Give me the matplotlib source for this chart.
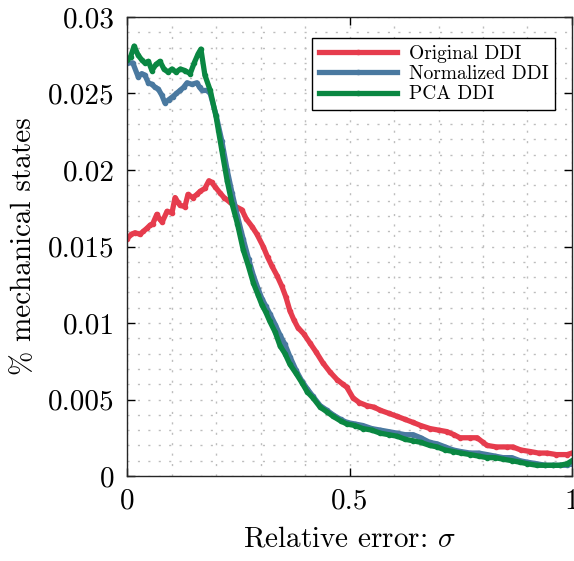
import matplotlib
matplotlib.use("Agg")
import matplotlib.pyplot as plt
import numpy as np
from matplotlib.ticker import MultipleLocator

# Original DDI
sigma_orig = [0.0, 0.010, 0.018, 0.029, 0.037, 0.045, 0.052, 0.058, 0.067, 0.073,
              0.079, 0.090, 0.101, 0.108, 0.114, 0.119, 0.130, 0.137, 0.148, 0.157,
              0.164, 0.175, 0.184, 0.190, 0.198, 0.209, 0.218, 0.231, 0.245, 0.258,
              0.268, 0.281, 0.292, 0.306, 0.316, 0.326, 0.337, 0.348, 0.357, 0.366,
              0.375, 0.384, 0.397, 0.411, 0.425, 0.440, 0.456, 0.472, 0.485, 0.494,
              0.508, 0.522, 0.539, 0.555, 0.569, 0.588, 0.607, 0.625, 0.643, 0.660,
              0.681, 0.700, 0.719, 0.735, 0.748, 0.770, 0.787, 0.800, 0.809, 0.830,
              0.854, 0.867, 0.885, 0.906, 0.925, 0.944, 0.965, 0.989, 1.0]
orig_ddi = [0.0155, 0.0158, 0.0159, 0.0158, 0.0160, 0.0162, 0.0164, 0.0165, 0.0171, 0.0168,
            0.0166, 0.0173, 0.0172, 0.0182, 0.0179, 0.0177, 0.0176, 0.0184, 0.0182, 0.0184,
            0.0186, 0.0188, 0.0193, 0.0192, 0.0189, 0.0185, 0.0182, 0.0179, 0.0176, 0.0174,
            0.0168, 0.0163, 0.0158, 0.0150, 0.0143, 0.0137, 0.0131, 0.0124, 0.0117, 0.0108,
            0.0102, 0.0097, 0.0093, 0.0087, 0.0081, 0.0074, 0.0068, 0.0063, 0.0060, 0.0058,
            0.0051, 0.0048, 0.0046, 0.0045, 0.0043, 0.0041, 0.0039, 0.0037, 0.0035, 0.0033,
            0.0031, 0.0030, 0.0029, 0.0027, 0.0025, 0.0025, 0.0025, 0.0022, 0.0020, 0.0019,
            0.0019, 0.0019, 0.0017, 0.0016, 0.0015, 0.0015, 0.0014, 0.0014, 0.0015]

# Normalized DDI
sigma_norm = [0.0, 0.013, 0.025, 0.033, 0.040, 0.048, 0.056, 0.063, 0.070, 0.078,
              0.085, 0.094, 0.103, 0.111, 0.119, 0.127, 0.135, 0.146, 0.157, 0.163,
              0.169, 0.180, 0.187, 0.200, 0.213, 0.225, 0.236, 0.248, 0.261, 0.273,
              0.284, 0.295, 0.303, 0.312, 0.321, 0.333, 0.344, 0.355, 0.366, 0.380,
              0.393, 0.405, 0.418, 0.434, 0.449, 0.463, 0.480, 0.494, 0.512, 0.530,
              0.550, 0.569, 0.588, 0.607, 0.625, 0.643, 0.660, 0.680, 0.697, 0.715,
              0.733, 0.750, 0.771, 0.790, 0.809, 0.827, 0.845, 0.865, 0.883, 0.900,
              0.921, 0.940, 0.957, 0.973, 0.989, 1.0]
norm_ddi = [0.0270, 0.0270, 0.0261, 0.0263, 0.0262, 0.0257, 0.0256, 0.0254, 0.0253, 0.0249,
            0.0244, 0.0246, 0.0248, 0.0250, 0.0252, 0.0254, 0.0257, 0.0256, 0.0257, 0.0254,
            0.0252, 0.0252, 0.0250, 0.0236, 0.0219, 0.0200, 0.0185, 0.0170, 0.0155, 0.0142,
            0.0131, 0.0122, 0.0116, 0.0111, 0.0106, 0.0099, 0.0092, 0.0086, 0.0078, 0.0069,
            0.0062, 0.0057, 0.0052, 0.0046, 0.0043, 0.0040, 0.0037, 0.0035, 0.0034, 0.0033,
            0.0031, 0.0030, 0.0029, 0.0028, 0.0027, 0.0027, 0.0025, 0.0022, 0.0021, 0.0019,
            0.0017, 0.0016, 0.0015, 0.0015, 0.0014, 0.0013, 0.0012, 0.0012, 0.0010, 0.0009,
            0.0008, 0.0007, 0.0007, 0.0007, 0.0007, 0.0008]

# PCA DDI
sigma_pca = [0.0, 0.008, 0.016, 0.025, 0.033, 0.040, 0.048, 0.056, 0.065, 0.074,
             0.083, 0.092, 0.101, 0.110, 0.120, 0.130, 0.142, 0.151, 0.160, 0.166,
             0.175, 0.187, 0.200, 0.213, 0.225, 0.236, 0.248, 0.261, 0.273, 0.284,
             0.295, 0.303, 0.312, 0.321, 0.333, 0.344, 0.355, 0.366, 0.380, 0.393,
             0.405, 0.418, 0.434, 0.449, 0.463, 0.480, 0.494, 0.512, 0.530, 0.550,
             0.569, 0.588, 0.607, 0.625, 0.643, 0.660, 0.680, 0.697, 0.715, 0.733,
             0.750, 0.771, 0.790, 0.809, 0.827, 0.845, 0.865, 0.883, 0.900, 0.921,
             0.940, 0.957, 0.973, 0.989, 1.0]
pca_ddi = [0.0272, 0.0274, 0.0281, 0.0275, 0.0272, 0.0270, 0.0271, 0.0265, 0.0269, 0.0271,
           0.0266, 0.0264, 0.0266, 0.0264, 0.0266, 0.0265, 0.0263, 0.0270, 0.0276, 0.0279,
           0.0262, 0.0252, 0.0235, 0.0213, 0.0193, 0.0178, 0.0165, 0.0148, 0.0137, 0.0126,
           0.0118, 0.0112, 0.0107, 0.0101, 0.0094, 0.0085, 0.0080, 0.0073, 0.0067, 0.0061,
           0.0055, 0.0051, 0.0045, 0.0042, 0.0039, 0.0036, 0.0034, 0.0033, 0.0031, 0.0030,
           0.0028, 0.0027, 0.0026, 0.0024, 0.0023, 0.0022, 0.0020, 0.0019, 0.0017, 0.0016,
           0.0015, 0.0014, 0.0013, 0.0012, 0.0012, 0.0011, 0.0010, 0.0009, 0.0008, 0.0007,
           0.0007, 0.0007, 0.0007, 0.0008, 0.0010]

x_ticks = [0, 0.5, 1]
x_ticklabels = ["0", "0.5", "1"]
y_ticks = [0, 0.005, 0.01, 0.015, 0.02, 0.025, 0.03]
y_ticklabels = ["0", "0.005", "0.01", "0.015", "0.02", "0.025", "0.03"]

plt.rcParams['font.family'] = 'serif'
plt.rcParams['font.serif'] = ['cmr10']
plt.rcParams['mathtext.fontset'] = 'cm'
plt.rcParams['axes.unicode_minus'] = False

fig = plt.figure(figsize=(5.74, 5.61), dpi=100)
ax = fig.add_axes([0.2213, 0.1515, 0.7752, 0.8182])

style = dict(lw=3.8, marker='.', ms=6)
ax.plot(sigma_orig, orig_ddi, color='#E63C4D', label='Original DDI', **style)
ax.plot(sigma_norm, norm_ddi, color='#4A79A0', label='Normalized DDI', **style)
ax.plot(sigma_pca, pca_ddi, color='#0A8742', label='PCA DDI', **style)

ax.set_xlim(0, 1)
ax.set_ylim(0, 0.03)
ax.set_xticks(x_ticks)
ax.set_xticklabels(x_ticklabels)
ax.set_yticks(y_ticks)
ax.set_yticklabels(y_ticklabels)
ax.xaxis.set_minor_locator(MultipleLocator(0.1))
ax.yaxis.set_minor_locator(MultipleLocator(0.001))
ax.tick_params(which='major', direction='in', length=6, width=1, labelsize=21,
               top=True, right=True, pad=9)
ax.tick_params(which='minor', length=0, top=True, right=True)
ax.grid(which='both', linestyle=(0, (1.5, 6)), color='#bdbdbd', linewidth=1.0)
ax.set_axisbelow(True)
for s in ax.spines.values():
    s.set_linewidth(1.0)
    s.set_color('#262626')

ax.set_xlabel(r'Relative error: $\sigma$', fontsize=21, labelpad=8)
ax.set_ylabel('% mechanical states', fontsize=21, labelpad=8)

leg = ax.legend(loc='upper right', bbox_to_anchor=(0.962, 0.954), borderaxespad=0,
                fontsize=14, handlelength=4.0, fancybox=False, framealpha=1,
                edgecolor='black', borderpad=0.35, labelspacing=0.12,
                handletextpad=0.6)
leg.get_frame().set_linewidth(1.0)

plt.savefig("out.png", dpi=100)
